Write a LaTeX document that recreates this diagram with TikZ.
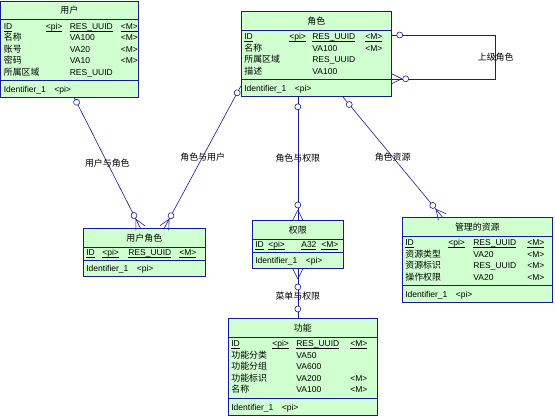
\documentclass[tikz,border=0pt]{standalone}
\usepackage{fontspec}
\setmainfont{Liberation Sans}
\newfontfamily\zh{Noto Sans CJK SC}[Scale=1.05]
\usetikzlibrary{shapes.multipart, decorations.markings, calc}
\definecolor{EntityFill}{RGB}{208,255,208}
\definecolor{EntityLine}{RGB}{24,24,152}
\newcommand{\titlestrut}{\rule[-4pt]{0pt}{15pt}}
\newcommand{\idstrut}{\rule[-3pt]{0pt}{13pt}}
\newcommand{\keyul}[1]{$\underline{\smash{\hbox{#1}}}$}

\begin{document}
\begin{tikzpicture}[
    x=1pt, y=-1pt,
    entity/.style={
        rectangle split, rectangle split parts=3,
        draw=EntityLine, line width=0.7pt, fill=EntityFill,
        text width=#1, inner xsep=3pt, inner ysep=1.5pt,
        anchor=north west, align=left,
        font=\fontsize{8.5}{11.5}\selectfont
    },
    rel/.style={draw=EntityLine, line width=0.6pt},
    lbl/.style={font=\fontsize{8.5}{10}\selectfont\zh, inner sep=1pt},
    % optional end: small circle at the given distance
    optfrom/.style={postaction={decorate, decoration={markings,
        mark=at position #1 with {\draw[rel, fill=white] (0,0) circle (3pt);}}}},
    optto/.style={postaction={decorate, decoration={markings,
        mark=at position -#1 with {\draw[rel, fill=white] (0,0) circle (3pt);}}}},
    % many end: crow's foot at the box plus circle
    manyfrom/.style={postaction={decorate, decoration={markings,
        mark=at position 10pt with {\draw[rel] (0,0) -- (-10pt,5pt) (0,0) -- (-10pt,-5pt);},
        mark=at position #1 with {\draw[rel, fill=white] (0,0) circle (3pt);}}}},
    manyto/.style={postaction={decorate, decoration={markings,
        mark=at position -#1 with {\draw[rel, fill=white] (0,0) circle (3pt);},
        mark=at position -10pt with {\draw[rel] (0,0) -- (10pt,5pt) (0,0) -- (10pt,-5pt);}}}}
]
\path[use as bounding box, fill=white] (0,0) rectangle (555,418);

% ---------------------------------------------------------------
% entities
% ---------------------------------------------------------------
\node[entity=131pt] (user) at (0.5,0.5) {%
    \makebox[\linewidth]{\titlestrut\zh 用户}
    \nodepart{two}
    \begin{tabular}{@{}p{42pt}@{}p{24pt}@{}p{51pt}@{}l@{}}
    \keyul{ID} & \keyul{<pi>} & \keyul{RES\_UUID} & \keyul{<M>}\\
    {\zh 名称} & & VA100 & <M>\\
    {\zh 账号} & & VA20 & <M>\\
    {\zh 密码} & & VA10 & <M>\\
    {\zh 所属区域} & & RES\_UUID &
    \end{tabular}
    \nodepart{three}
    \idstrut Identifier\_1\quad <pi>};

\node[entity=144pt] (role) at (241,11) {%
    \makebox[\linewidth]{\titlestrut\zh 角色}
    \nodepart{two}
    \begin{tabular}{@{}p{45pt}@{}p{23pt}@{}p{53pt}@{}l@{}}
    \keyul{ID} & \keyul{<pi>} & \keyul{RES\_UUID} & \keyul{<M>}\\
    {\zh 名称} & & VA100 & <M>\\
    {\zh 所属区域} & & RES\_UUID &\\
    {\zh 描述} & & VA100 &
    \end{tabular}
    \nodepart{three}
    \idstrut Identifier\_1\quad <pi>};

\node[entity=116pt] (userrole) at (83,228) {%
    \makebox[\linewidth]{\titlestrut\zh 用户角色}
    \nodepart{two}
    \renewcommand{\arraystretch}{0.8}%
    \begin{tabular}{@{}p{16pt}@{}p{26pt}@{}p{51pt}@{}l@{}}
    \keyul{ID} & \keyul{<pi>} & \keyul{RES\_UUID} & \keyul{<M>}
    \end{tabular}
    \nodepart{three}
    \idstrut Identifier\_1\quad <pi>};

\node[entity=85pt] (perm) at (252,220) {%
    \makebox[\linewidth]{\titlestrut\zh 权限}
    \nodepart{two}
    \renewcommand{\arraystretch}{0.8}%
    \begin{tabular}{@{}p{13pt}@{}p{33pt}@{}p{20pt}@{}l@{}}
    \keyul{ID} & \keyul{<pi>} & \keyul{A32} & \keyul{<M>}
    \end{tabular}
    \nodepart{three}
    \idstrut Identifier\_1\quad <pi>};

\node[entity=144pt] (resource) at (402,217) {%
    \makebox[\linewidth]{\titlestrut\zh 管理的资源}
    \nodepart{two}
    \begin{tabular}{@{}p{43pt}@{}p{25pt}@{}p{54pt}@{}l@{}}
    \keyul{ID} & \keyul{<pi>} & \keyul{RES\_UUID} & \keyul{<M>}\\
    {\zh 资源类型} & & VA20 & <M>\\
    {\zh 资源标识} & & RES\_UUID & <M>\\
    {\zh 操作权限} & & VA20 & <M>
    \end{tabular}
    \nodepart{three}
    \idstrut Identifier\_1\quad <pi>};

\node[entity=143pt] (func) at (228,318) {%
    \makebox[\linewidth]{\titlestrut\zh 功能}
    \nodepart{two}
    \begin{tabular}{@{}p{41pt}@{}p{24pt}@{}p{54pt}@{}l@{}}
    \keyul{ID} & \keyul{<pi>} & \keyul{RES\_UUID} & \keyul{<M>}\\
    {\zh 功能分类} & & VA50 &\\
    {\zh 功能分组} & & VA600 &\\
    {\zh 功能标识} & & VA200 & <M>\\
    {\zh 名称} & & VA100 & <M>
    \end{tabular}
    \nodepart{three}
    \idstrut Identifier\_1\quad <pi>};

% ---------------------------------------------------------------
% relations
% ---------------------------------------------------------------
\draw[rel, optfrom=5pt, manyto=14pt] ([xshift=5pt]user.south)
    -- node[lbl] {用户与角色} ([xshift=-4pt]userrole.north);

\draw[rel, optfrom=8pt, manyto=14pt] ([yshift=11pt]role.south west)
    -- node[lbl] {角色与用户} ([xshift=20pt]userrole.north);

\draw[rel, optfrom=10pt, manyto=15pt] (perm.north |- role.south)
    -- node[lbl] {角色与权限} (perm.north);

\draw[rel, optfrom=10pt, manyto=15pt] ([xshift=26.5pt]role.south)
    -- node[lbl] {角色资源} ([xshift=-35pt]resource.north);

\draw[rel, manyfrom=18pt, optto=9pt] (perm.south)
    -- node[lbl, pos=0.55] {菜单与权限} (perm.south |- func.north);

% self relation of role
\coordinate (loopa) at ([yshift=-24pt]role.north east);
\coordinate (loopb) at ([yshift=18pt]role.south east);
\coordinate (loopx) at ([xshift=104pt]role.east);
\draw[rel, optfrom=8pt, manyto=14pt] (loopa) -- (loopa -| loopx)
    -- node[lbl] {上级角色} (loopb -| loopx) -- (loopb);

\end{tikzpicture}
\end{document}
